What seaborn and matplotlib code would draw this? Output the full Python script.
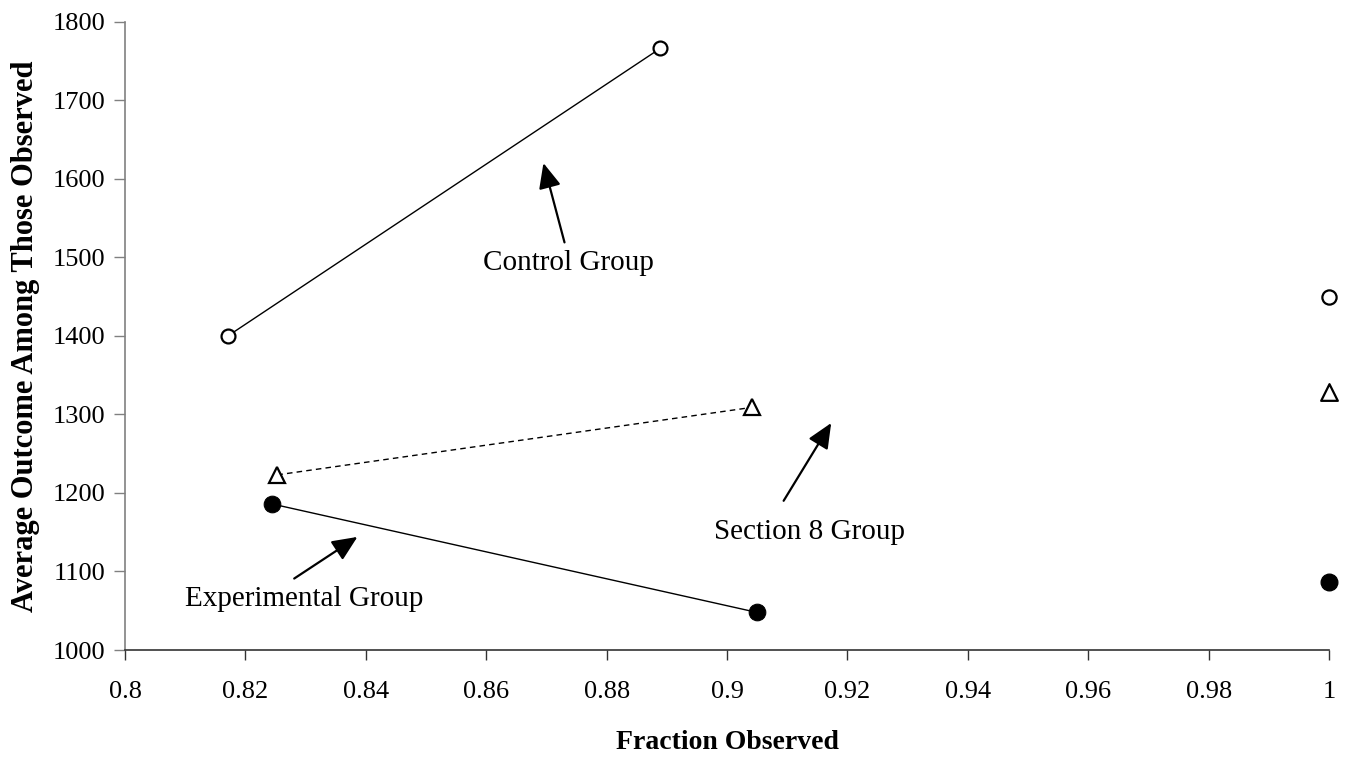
import matplotlib

matplotlib.use("Agg")
import matplotlib.pyplot as plt
import seaborn as sns

# values
CONTROL_X = [0.8171, 0.8889]
CONTROL_Y = [1400, 1766]
SECTION8_X = [0.8253, 0.9042]
SECTION8_Y = [1223, 1309]
EXPERIMENTAL_X = [0.8244, 0.9049]
EXPERIMENTAL_Y = [1186, 1048]

FULL_X = 1.0
FULL_CONTROL_Y = 1449
FULL_SECTION8_Y = 1329
FULL_EXPERIMENTAL_Y = 1087

X_TICKS = [0.8, 0.82, 0.84, 0.86, 0.88, 0.9, 0.92, 0.94, 0.96, 0.98, 1.0]
X_TICK_LABELS = ["0.8", "0.82", "0.84", "0.86", "0.88", "0.9", "0.92", "0.94", "0.96", "0.98", "1"]
Y_TICKS = [1000, 1100, 1200, 1300, 1400, 1500, 1600, 1700, 1800]


def main() -> None:
    sns.set_style("white")
    plt.rcParams["font.family"] = ["Liberation Serif", "DejaVu Serif"]
    plt.rcParams["text.color"] = "black"
    plt.rcParams["axes.labelcolor"] = "black"
    plt.rcParams["xtick.labelcolor"] = "black"
    plt.rcParams["ytick.labelcolor"] = "black"

    fig, ax = plt.subplots(figsize=(13.49, 7.59), dpi=100)
    fig.subplots_adjust(left=0.0927, right=0.9852, top=0.9714, bottom=0.1436)

    sns.lineplot(
        x=CONTROL_X, y=CONTROL_Y, ax=ax, color="black", linewidth=1,
        marker="o", markersize=10, markerfacecolor="white",
        markeredgecolor="black", markeredgewidth=1.6,
    )
    sns.lineplot(
        x=SECTION8_X, y=SECTION8_Y, ax=ax, color="black", linewidth=1,
        linestyle=(0, (4, 3)), marker="^", markersize=12,
        markerfacecolor="white", markeredgecolor="black", markeredgewidth=1.6,
    )
    sns.lineplot(
        x=EXPERIMENTAL_X, y=EXPERIMENTAL_Y, ax=ax, color="black", linewidth=1,
        marker="o", markersize=12, markerfacecolor="black",
        markeredgecolor="black",
    )

    sns.scatterplot(x=[FULL_X], y=[FULL_CONTROL_Y], ax=ax, marker="o", s=105,
                    facecolor="white", edgecolor="black", linewidth=1.6, zorder=5, clip_on=False)
    sns.scatterplot(x=[FULL_X], y=[FULL_SECTION8_Y], ax=ax, marker="^", s=144,
                    facecolor="white", edgecolor="black", linewidth=1.6, zorder=5, clip_on=False)
    sns.scatterplot(x=[FULL_X], y=[FULL_EXPERIMENTAL_Y], ax=ax, marker="o", s=144,
                    facecolor="black", edgecolor="black", zorder=5, clip_on=False)

    arrow = dict(arrowstyle="-|>,head_length=0.9,head_width=0.4", color="black",
                 lw=1.6, shrinkA=0, shrinkB=0, mutation_scale=17)
    ax.annotate("", xy=(0.8695, 1620), xytext=(0.8730, 1519), arrowprops=arrow)
    ax.annotate("", xy=(0.9173, 1289), xytext=(0.9094, 1190), arrowprops=arrow)
    ax.annotate("", xy=(0.8386, 1144), xytext=(0.8281, 1091), arrowprops=arrow)

    ax.text(0.8736, 1484, "Control Group", ha="center", va="baseline", fontsize=21)
    ax.text(0.9137, 1141, "Section 8 Group", ha="center", va="baseline", fontsize=21)
    ax.text(0.8298, 1056, "Experimental Group", ha="center", va="baseline", fontsize=21)

    ax.set_xlim(0.8, 1.0)
    ax.set_ylim(1000, 1800)
    ax.set_xticks(X_TICKS)
    ax.set_xticklabels(X_TICK_LABELS)
    ax.set_yticks(Y_TICKS)

    ax.tick_params(axis="x", direction="out", length=7, width=1, color="#333333",
                   pad=15, labelsize=19, bottom=True)
    ax.tick_params(axis="y", direction="out", length=8, width=1, color="#808080",
                   pad=6, labelsize=19, left=True)

    ax.set_xlabel("Fraction Observed", fontsize=20, fontweight="bold", labelpad=20)
    ax.set_ylabel("Average Outcome Among Those Observed", fontsize=22,
                  fontweight="bold", labelpad=9)

    sns.despine(ax=ax)
    ax.spines["left"].set_color("#808080")
    ax.spines["bottom"].set_color("#333333")
    ax.spines["left"].set_linewidth(1.2)
    ax.spines["bottom"].set_linewidth(1.2)

    fig.savefig("out.png", dpi=100)
    plt.close(fig)


if __name__ == "__main__":
    main()
